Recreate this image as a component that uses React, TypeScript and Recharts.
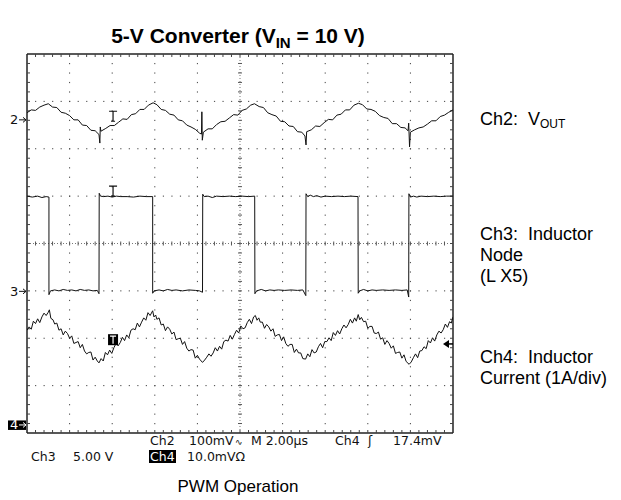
import React from "react";
import { LineChart, Line, XAxis, YAxis, ReferenceLine, ReferenceDot } from "recharts";

interface Pt {
  t: number;
  v: number;
}

// time in µs (2 µs/div), values in screen divisions (-4..4)
const ch2Vout: Pt[] = [
  [0, 2.76], [0.2, 2.82], [0.4, 2.81], [0.6, 2.88], [0.8, 2.92], [1.0, 2.95],
  [1.2, 2.88], [1.4, 2.87], [1.6, 2.77], [1.8, 2.75], [2.0, 2.7], [2.2, 2.61], [2.4, 2.61], [2.6, 2.5],
  [2.8, 2.49], [3.0, 2.39], [3.2, 2.38], [3.38, 2.3], [3.42, 2.12], [3.44, 2.46], [3.47, 2.37],
  [3.7, 2.43], [3.9, 2.49], [4.1, 2.49], [4.3, 2.56], [4.5, 2.63], [4.7, 2.62], [4.9, 2.72], [5.1, 2.74],
  [5.3, 2.83], [5.5, 2.83], [5.7, 2.92], [5.92, 2.97],
  [6.1, 2.93], [6.3, 2.83], [6.5, 2.81], [6.7, 2.73], [6.9, 2.71], [7.1, 2.61], [7.3, 2.59], [7.5, 2.5],
  [7.7, 2.46], [7.9, 2.41], [8.1, 2.33], [8.19, 2.31], [8.21, 2.78], [8.23, 2.18], [8.28, 2.35],
  [8.5, 2.42], [8.7, 2.42], [8.9, 2.51], [9.1, 2.57], [9.3, 2.58], [9.5, 2.65], [9.7, 2.72], [9.9, 2.71],
  [10.1, 2.81], [10.3, 2.84], [10.5, 2.92], [10.68, 2.95],
  [10.9, 2.89], [11.1, 2.87], [11.3, 2.76], [11.5, 2.72], [11.7, 2.69], [11.9, 2.58], [12.1, 2.57], [12.3, 2.48],
  [12.5, 2.47], [12.7, 2.36], [12.9, 2.35], [13.05, 2.27], [13.1, 2.08], [13.13, 2.36],
  [13.35, 2.4], [13.55, 2.48], [13.75, 2.47], [13.95, 2.55], [14.15, 2.62], [14.35, 2.61], [14.55, 2.71], [14.75, 2.73],
  [14.95, 2.82], [15.15, 2.82], [15.35, 2.92], [15.56, 2.96],
  [15.75, 2.93], [15.95, 2.84], [16.15, 2.83], [16.35, 2.79], [16.55, 2.7], [16.75, 2.66], [16.95, 2.64], [17.15, 2.53],
  [17.35, 2.53], [17.55, 2.45], [17.75, 2.44], [17.89, 2.38], [17.92, 2.54], [17.96, 2.04], [18.0, 2.35],
  [18.2, 2.4], [18.4, 2.44], [18.6, 2.46], [18.8, 2.52], [19.0, 2.59], [19.2, 2.59], [19.4, 2.68], [19.6, 2.71],
  [19.8, 2.77], [20, 2.82],
].map(([t, v]) => ({ t, v }));

const ch3Node: Pt[] = [
  [0, 1.0], [0.25, 0.98], [0.5, 1.0], [0.7, 0.97], [0.9, 0.99], [1.03, 0.98], [1.03, -1.08], [1.1, -1.0],
  [1.3, -0.98], [1.5, -1.0], [1.7, -0.97], [1.9, -0.99], [2.1, -0.98], [2.3, -1.0], [2.5, -0.97], [2.7, -0.99],
  [2.9, -0.98], [3.1, -1.0], [3.3, -0.99], [3.38, -1.06], [3.39, 1.06], [3.45, 1.0], [3.6, 0.99], [3.8, 1.0],
  [4.0, 0.98], [4.2, 1.0], [4.4, 0.99], [4.7, 0.99], [5.0, 0.98], [5.3, 1.0], [5.6, 0.99], [5.9, 0.99],
  [5.9, -1.05], [5.97, -1.0], [6.2, -0.98], [6.4, -1.0], [6.6, -0.97], [6.8, -0.99], [7.0, -0.98], [7.3, -1.0],
  [7.6, -0.98], [7.9, -0.99], [8.1, -1.0], [8.24, -1.03], [8.25, 1.04], [8.32, 0.99], [8.5, 1.0], [8.7, 0.97],
  [8.9, 1.0], [9.2, 0.99], [9.5, 1.0], [9.8, 0.99], [10.1, 1.0], [10.4, 0.99], [10.69, 1.0], [10.7, -1.06],
  [10.78, -1.0], [11.0, -0.97], [11.2, -1.0], [11.4, -0.98], [11.6, -0.99], [11.8, -0.98], [12.1, -0.99], [12.4, -0.98],
  [12.7, -0.99], [12.95, -0.98], [13.09, -1.1], [13.1, 1.05], [13.18, 0.99], [13.3, 1.02], [13.45, 0.99], [13.6, 1.01],
  [13.8, 0.98], [14.0, 1.0], [14.3, 0.99], [14.6, 1.0], [14.9, 0.99], [15.2, 1.0], [15.54, 0.99], [15.55, -1.05],
  [15.62, -1.0], [15.8, -0.97], [16.0, -1.0], [16.2, -0.98], [16.4, -0.99], [16.7, -0.98], [17.0, -0.99], [17.3, -0.98],
  [17.6, -0.99], [17.85, -0.98], [17.92, -1.13], [17.93, 1.05], [18.0, 0.98], [18.15, 1.0], [18.3, 0.98], [18.5, 1.0],
  [18.8, 0.99], [19.1, 1.0], [19.4, 0.99], [19.7, 1.0], [20, 1.0],
].map(([t, v]) => ({ t, v }));

const ch4Current: Pt[] = [
  [0, -1.83], [0.1, -1.76], [0.2, -1.81], [0.3, -1.64], [0.4, -1.69], [0.5, -1.59], [0.6, -1.67], [0.7, -1.55],
  [0.8, -1.47], [0.9, -1.52], [1.0, -1.45], [1.05, -1.4], [1.12, -1.58], [1.22, -1.61], [1.3, -1.7], [1.4, -1.68],
  [1.5, -1.83], [1.6, -1.8], [1.7, -1.93], [1.8, -1.85], [1.9, -1.9], [2.0, -2.0], [2.1, -1.95], [2.2, -2.11],
  [2.3, -2.09], [2.4, -2.07], [2.5, -2.2], [2.6, -2.13], [2.7, -2.27], [2.8, -2.33], [2.9, -2.3], [3.0, -2.29],
  [3.1, -2.46], [3.2, -2.4], [3.3, -2.48], [3.38, -2.52], [3.48, -2.43], [3.58, -2.48], [3.68, -2.3], [3.78, -2.35],
  [3.88, -2.25], [3.98, -2.32], [4.08, -2.2], [4.18, -2.11], [4.28, -2.16], [4.38, -2.09], [4.48, -1.98], [4.58, -2.05],
  [4.68, -1.93], [4.78, -1.99], [4.88, -1.83], [4.98, -1.8], [5.08, -1.82], [5.18, -1.68], [5.28, -1.76], [5.38, -1.66],
  [5.48, -1.57], [5.58, -1.62], [5.68, -1.46], [5.78, -1.52], [5.9, -1.42], [5.96, -1.55], [6.04, -1.51], [6.1, -1.6],
  [6.2, -1.57], [6.3, -1.72], [6.4, -1.7], [6.5, -1.84], [6.6, -1.76], [6.7, -1.81], [6.8, -1.91], [6.9, -1.87],
  [7.0, -2.03], [7.1, -2.01], [7.2, -2.0], [7.3, -2.13], [7.4, -2.07], [7.5, -2.21], [7.6, -2.27], [7.7, -2.24],
  [7.8, -2.25], [7.9, -2.42], [8.0, -2.36], [8.1, -2.44], [8.24, -2.51], [8.34, -2.46], [8.44, -2.4], [8.54, -2.33],
  [8.64, -2.38], [8.74, -2.31], [8.84, -2.2], [8.94, -2.27], [9.04, -2.17], [9.14, -2.23], [9.24, -2.07], [9.34, -2.04],
  [9.44, -2.06], [9.54, -1.94], [9.64, -2.02], [9.74, -1.92], [9.84, -1.83], [9.94, -1.89], [10.04, -1.74], [10.14, -1.8],
  [10.24, -1.78], [10.34, -1.67], [10.44, -1.6], [10.54, -1.69], [10.64, -1.55], [10.72, -1.52], [10.8, -1.62], [10.88, -1.57],
  [10.95, -1.66], [11.05, -1.66], [11.15, -1.79], [11.25, -1.71], [11.35, -1.76], [11.45, -1.85], [11.55, -1.8], [11.65, -1.96],
  [11.75, -1.93], [11.85, -1.92], [11.95, -2.05], [12.05, -1.97], [12.15, -2.11], [12.25, -2.17], [12.35, -2.13], [12.45, -2.13],
  [12.55, -2.3], [12.65, -2.23], [12.75, -2.31], [12.85, -2.31], [12.95, -2.43], [13.08, -2.44], [13.18, -2.33], [13.28, -2.39],
  [13.38, -2.24], [13.48, -2.31], [13.58, -2.29], [13.68, -2.18], [13.78, -2.11], [13.88, -2.2], [13.98, -2.07], [14.08, -2.07],
  [14.18, -1.99], [14.28, -2.05], [14.38, -1.88], [14.48, -1.94], [14.58, -1.84], [14.68, -1.91], [14.78, -1.8], [14.88, -1.72],
  [14.98, -1.78], [15.08, -1.71], [15.18, -1.6], [15.28, -1.68], [15.38, -1.57], [15.46, -1.64], [15.55, -1.5], [15.62, -1.61],
  [15.7, -1.56], [15.8, -1.65], [15.9, -1.64], [16.0, -1.79], [16.1, -1.75], [16.2, -1.75], [16.3, -1.89], [16.4, -1.9],
  [16.5, -1.87], [16.6, -2.02], [16.7, -1.99], [16.8, -2.13], [16.9, -2.05], [17.0, -2.11], [17.1, -2.21], [17.2, -2.16],
  [17.3, -2.32], [17.4, -2.3], [17.5, -2.29], [17.6, -2.42], [17.7, -2.35], [17.8, -2.49], [17.94, -2.55], [18.04, -2.5],
  [18.14, -2.41], [18.24, -2.33], [18.34, -2.41], [18.44, -2.27], [18.54, -2.26], [18.64, -2.18], [18.74, -2.22], [18.84, -2.05],
  [18.94, -2.1], [19.04, -1.99], [19.14, -2.06], [19.24, -1.93], [19.34, -1.85], [19.44, -1.89], [19.54, -1.82], [19.64, -1.7],
  [19.74, -1.77], [19.84, -1.65], [19.92, -1.68], [20, -1.55],
].map(([t, v]) => ({ t, v }));

const ch2Ground = 2.61;
const ch3Ground = -1.01;
const ch4Ground = -3.83;
const triggerTime = 4.04;
const triggerLevel = -2.12;
const markerLevels = { ch2: 2.58, ch3: 1.0, ch4: -2.03 };

const timeGrid = [2, 4, 6, 8, 12, 14, 16, 18];
const voltGrid = [-3, -2, -1, 1, 2, 3];

const rightLabels = [
  { lines: ["Ch2:  V"], y: 125, sub: "OUT" },
  { lines: ["Ch3:  Inductor", "Node", "(L X5)"], y: 240 },
  { lines: ["Ch4:  Inductor", "Current (1A/div)"], y: 363 },
];

const INK = "#111";

// graticule line drawn through a ReferenceLine shape: dots / ticks every 1/5 division
const graticule = (kind: "grid" | "center" | "border", side?: "top" | "bottom" | "left" | "right") => (p: any) => {
  const x1 = Number(p.x1), y1 = Number(p.y1), x2 = Number(p.x2), y2 = Number(p.y2);
  const vertical = Math.abs(x1 - x2) < 0.5;
  const a = vertical ? Math.min(y1, y2) : Math.min(x1, x2);
  const b = vertical ? Math.max(y1, y2) : Math.max(x1, x2);
  const n = vertical ? 40 : 50;
  const step = (b - a) / n;
  const marks: React.ReactNode[] = [];
  for (let i = 1; i < n; i++) {
    const s = a + i * step;
    if (kind === "grid") {
      marks.push(
        vertical ? (
          <rect key={i} x={x1 - 0.5} y={s - 0.5} width={1} height={1.2} fill="#444" />
        ) : (
          <rect key={i} x={s - 0.5} y={y1 - 0.5} width={1.2} height={1} fill="#444" />
        )
      );
    } else if (kind === "center") {
      marks.push(
        vertical ? (
          <line key={i} x1={x1 - 2} x2={x1 + 2} y1={s} y2={s} stroke="#555" strokeWidth={1} />
        ) : (
          <line key={i} x1={s} x2={s} y1={y1 - 2} y2={y1 + 2} stroke="#555" strokeWidth={1} />
        )
      );
    } else {
      const d = side === "top" || side === "left" ? 3 : -3;
      marks.push(
        vertical ? (
          <line key={i} x1={x1} x2={x1 + d} y1={s} y2={s} stroke="#444" strokeWidth={1} />
        ) : (
          <line key={i} x1={s} x2={s} y1={y1} y2={y1 + d} stroke="#444" strokeWidth={1} />
        )
      );
    }
  }
  return (
    <g>
      {kind === "center" && <line x1={x1} y1={y1} x2={x2} y2={y2} stroke="#777" strokeWidth={1} strokeDasharray="1 2" />}
      {kind === "border" && <line x1={x1} y1={y1} x2={x2} y2={y2} stroke="#222" strokeWidth={1.5} />}
      {marks}
    </g>
  );
};

const groundMarker = (label: string, inverted = false) => (p: any) => {
  const cx = Number(p.cx), cy = Number(p.cy);
  const c = inverted ? "#fff" : INK;
  return (
    <g>
      {inverted && <rect x={cx - 19} y={cy - 4.5} width={18} height={9.5} fill="#000" />}
      <text x={cx - 17} y={cy + 4.5} fontSize={13} fontFamily="DejaVu Sans, sans-serif" fill={c}>
        {label}
      </text>
      <line x1={cx - 8} x2={cx - 1} y1={cy} y2={cy} stroke={c} strokeWidth={1} />
      <path d={`M${cx - 4},${cy - 2.5}L${cx - 1},${cy}L${cx - 4},${cy + 2.5}`} fill="none" stroke={c} strokeWidth={1} />
    </g>
  );
};

const trigMarker = (boxed: boolean) => (p: any) => {
  const cx = Number(p.cx), cy = Number(p.cy);
  if (boxed) {
    return (
      <g>
        <rect x={cx - 5} y={cy - 5.5} width={10} height={11} fill="#000" />
        <path d={`M${cx - 3},${cy - 3.5}H${cx + 3}M${cx},${cy - 3.5}V${cy + 4}`} stroke="#fff" strokeWidth={1.2} />
      </g>
    );
  }
  return (
    <path
      d={`M${cx - 4},${cy - 10}H${cx + 4}M${cx},${cy - 10}V${cy}M${cx - 2},${cy}H${cx + 2}`}
      stroke={INK}
      strokeWidth={1.2}
      fill="none"
    />
  );
};

const levelArrow = (p: any) => {
  const cx = Number(p.cx), cy = Number(p.cy);
  return (
    <g>
      <path d={`M${cx - 10},${cy}L${cx - 4},${cy - 4}L${cx - 4},${cy + 4}Z`} fill="#000" />
      <line x1={cx - 5} x2={cx} y1={cy} y2={cy} stroke="#000" strokeWidth={1.5} />
    </g>
  );
};

const readout = { fontFamily: "DejaVu Sans, sans-serif", fontSize: 12.5, fill: "#111" };

export default function App() {
  return (
    <div style={{ position: "absolute", left: 0, top: 0, width: 621, height: 500, background: "#fff" }}>
      <LineChart width={621} height={500} margin={{ top: 54, right: 168, bottom: 67, left: 27 }}>
        <XAxis type="number" dataKey="t" domain={[0, 20]} allowDataOverflow hide />
        <YAxis type="number" domain={[-4, 4]} allowDataOverflow hide />
        {timeGrid.map((x) => (
          <ReferenceLine key={`vx${x}`} x={x} shape={graticule("grid")} />
        ))}
        {voltGrid.map((y) => (
          <ReferenceLine key={`hy${y}`} y={y} shape={graticule("grid")} />
        ))}
        <ReferenceLine x={10} shape={graticule("center")} />
        <ReferenceLine y={0} shape={graticule("center")} />
        <ReferenceLine x={0} shape={graticule("border", "left")} />
        <ReferenceLine x={20} shape={graticule("border", "right")} />
        <ReferenceLine y={4} shape={graticule("border", "top")} />
        <ReferenceLine y={-4} shape={graticule("border", "bottom")} />
        <Line data={ch2Vout} dataKey="v" type="linear" stroke={INK} strokeWidth={1} dot={false} isAnimationActive={false} />
        <Line data={ch3Node} dataKey="v" type="linear" stroke={INK} strokeWidth={1} dot={false} isAnimationActive={false} />
        <Line data={ch4Current} dataKey="v" type="linear" stroke={INK} strokeWidth={1} dot={false} isAnimationActive={false} />
        <ReferenceDot x={0} y={ch2Ground} shape={groundMarker("2")} />
        <ReferenceDot x={0} y={ch3Ground} shape={groundMarker("3")} />
        <ReferenceDot x={0} y={ch4Ground} shape={groundMarker("4", true)} />
        <ReferenceDot x={triggerTime} y={markerLevels.ch2} shape={trigMarker(false)} />
        <ReferenceDot x={triggerTime} y={markerLevels.ch3} shape={trigMarker(false)} />
        <ReferenceDot x={triggerTime} y={markerLevels.ch4} shape={trigMarker(true)} />
        <ReferenceDot x={20} y={triggerLevel} shape={levelArrow} />
      </LineChart>
      <svg width={621} height={500} style={{ position: "absolute", left: 0, top: 0, pointerEvents: "none" }}>
        <text x={238} y={43} textAnchor="middle" fontFamily="Liberation Sans, Arial, sans-serif" fontWeight="bold" fontSize={21} fill="#000">
          5-V Converter (V<tspan fontSize={15} dy={5}>IN</tspan>
          <tspan dy={-5}> = 10 V)</tspan>
        </text>
        {rightLabels.map((lab) =>
          lab.lines.map((ln, i) => (
            <text key={ln} x={480} y={lab.y + i * 21} fontFamily="Liberation Sans, Arial, sans-serif" fontSize={18} fill="#000" style={{ whiteSpace: "pre" }}>
              {ln}
              {lab.sub && <tspan fontSize={12} dy={3}>{lab.sub}</tspan>}
            </text>
          ))
        )}
        <text x={150} y={445} {...readout}>Ch2</text>
        <text x={189} y={445} {...readout}>100mV</text>
        <text x={235} y={445} {...readout} fontSize={9}>∿</text>
        <text x={251} y={445} {...readout} style={{ whiteSpace: "pre" }}>M 2.00µs</text>
        <text x={335} y={445} {...readout}>Ch4</text>
        <text x={368} y={445} {...readout}>ʃ</text>
        <text x={393} y={445} {...readout}>17.4mV</text>
        <text x={31} y={461} {...readout}>Ch3</text>
        <text x={73} y={461} {...readout}>5.00 V</text>
        <rect x={149} y={450} width={27} height={13} fill="#000" />
        <text x={150} y={461} {...readout} fill="#fff">Ch4</text>
        <text x={187} y={461} {...readout}>10.0mVΩ</text>
        <text x={238} y={492} textAnchor="middle" fontFamily="Liberation Sans, Arial, sans-serif" fontSize={17} fill="#000">
          PWM Operation
        </text>
      </svg>
    </div>
  );
}
